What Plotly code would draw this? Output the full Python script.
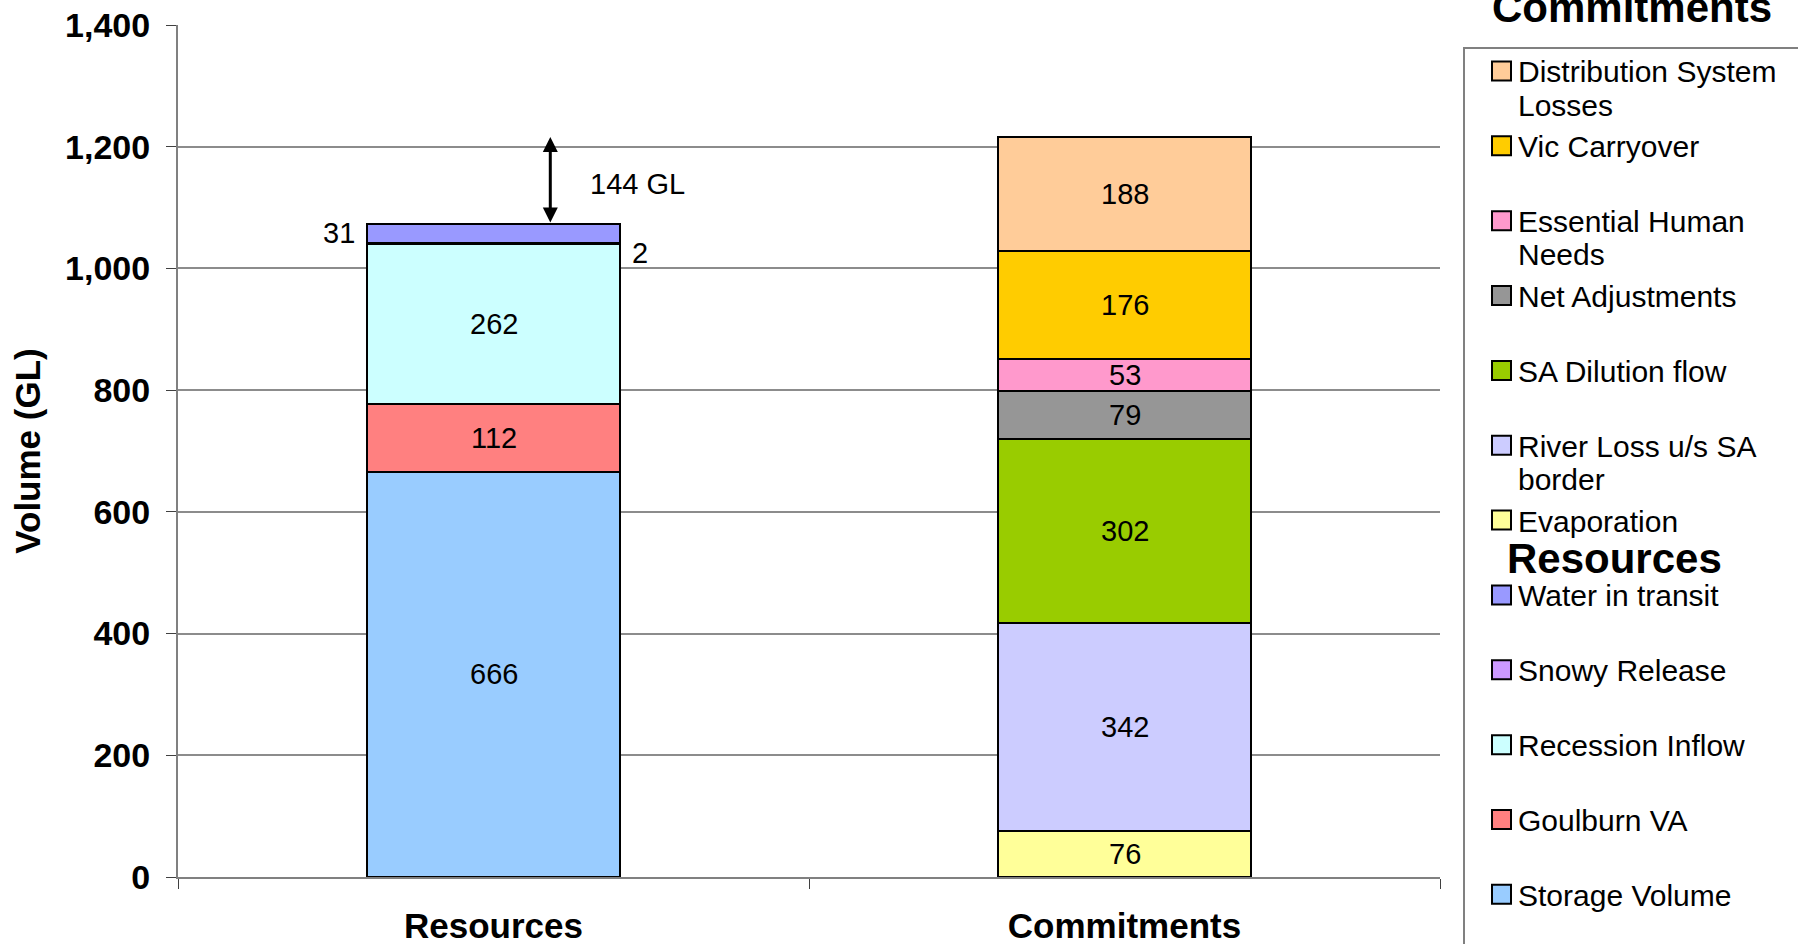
import textwrap
import plotly.graph_objects as go

# ---------------- data ----------------
categories = ["Resources", "Commitments"]

resource_names = ["Storage Volume", "Goulburn VA", "Recession Inflow", "Snowy Release", "Water in transit"]
resource_values = [666, 112, 262, 2, 31]

commitment_names = ["Evaporation", "River Loss u/s SA border", "SA Dilution flow", "Net Adjustments",
                    "Essential Human Needs", "Vic Carryover", "Distribution System Losses"]
commitment_values = [76, 342, 302, 79, 53, 176, 188]

gap_value = 144  # shortfall shown by the arrow (GL, as printed on the chart)

y_tick_values = [0, 200, 400, 600, 800, 1000, 1200, 1400]

# ---------------- styles ----------------
resource_colors = ["#99CCFF", "#FF8080", "#CCFFFF", "#CC99FF", "#9999FF"]
commitment_colors = ["#FFFF99", "#CCCCFF", "#99CC00", "#969696", "#FF99CC", "#FFCC00", "#FFCC99"]

FONT = "Liberation Sans, Arial, sans-serif"
FIG_W, FIG_H = 1798, 944
L, R, T, B = 178, 358, 25, 67
PW, PH = FIG_W - L - R, FIG_H - T - B
BAR_W = 0.4


def px(x):
    return (x - L) / PW


def py(y):
    return (FIG_H - B - y) / PH


fig = go.Figure()
annotations = []
shapes = []


def add_stack(cat_idx, names, values, colors, outside=None):
    base = 0
    for n, v, c in zip(names, values, colors):
        fig.add_trace(go.Bar(
            x=[categories[cat_idx]], y=[v], name=n, width=BAR_W,
            marker=dict(color=c, line=dict(color="black", width=2)),
            showlegend=False, hoverinfo="name+y"))
        mid = base + v / 2
        side = (outside or {}).get(n)
        if side == "left":
            annotations.append(dict(x=cat_idx - BAR_W / 2, y=mid, xref="x", yref="y", text=str(v),
                                    showarrow=False, xanchor="right", xshift=-10,
                                    font=dict(size=29, color="black", family=FONT)))
        elif side == "right":
            annotations.append(dict(x=cat_idx + BAR_W / 2, y=mid, xref="x", yref="y", text=str(v),
                                    showarrow=False, xanchor="left", xshift=10, yshift=-10,
                                    font=dict(size=29, color="black", family=FONT)))
        else:
            annotations.append(dict(x=cat_idx, y=mid, xref="x", yref="y", text=str(v),
                                    showarrow=False, xanchor="center", yanchor="middle",
                                    font=dict(size=29, color="black", family=FONT)))
        base += v
    return base


res_total = add_stack(0, resource_names, resource_values, resource_colors,
                      outside={"Snowy Release": "right", "Water in transit": "left"})
com_total = add_stack(1, commitment_names, commitment_values, commitment_colors)

# gap arrow between the two totals
ARROW_X = 0.09
annotations.append(dict(x=ARROW_X, y=com_total, ax=ARROW_X, ay=res_total, xref="x", yref="y",
                        axref="x", ayref="y", text="", showarrow=True, arrowhead=2, startarrowhead=2,
                        arrowside="end+start", arrowwidth=3, arrowsize=1, startarrowsize=1,
                        arrowcolor="black", standoff=0, startstandoff=0))
annotations.append(dict(x=0.15, y=(com_total + res_total) / 2 - 5, xref="x", yref="y",
                        text=f"{gap_value} GL", showarrow=False, xanchor="left",
                        yanchor="middle", font=dict(size=29, color="black", family=FONT)))

# ---------------- manual legend ----------------
shapes.append(dict(type="rect", xref="paper", yref="paper", x0=px(1464), x1=px(1810),
                   y0=py(960), y1=py(48), line=dict(color="#808080", width=2), fillcolor="white",
                   layer="below"))
annotations.append(dict(x=px(1632), y=py(7), xref="paper", yref="paper", text="<b>Commitments</b>",
                        showarrow=False, xanchor="center", yanchor="middle",
                        font=dict(size=42, color="black", family=FONT)))
annotations.append(dict(x=px(1614), y=py(558), xref="paper", yref="paper", text="<b>Resources</b>",
                        showarrow=False, xanchor="center", yanchor="middle",
                        font=dict(size=42, color="black", family=FONT)))

legend_entries = list(zip(commitment_names[::-1], commitment_colors[::-1])) + \
    list(zip(resource_names[::-1], resource_colors[::-1]))
for k, (name, col) in enumerate(legend_entries):
    cy = 71 + k * 74.85
    shapes.append(dict(type="rect", xref="paper", yref="paper", x0=px(1492), x1=px(1511),
                       y0=py(cy + 9.5), y1=py(cy - 9.5), fillcolor=col,
                       line=dict(color="black", width=2)))
    for j, line in enumerate(textwrap.wrap(name, 19)):
        annotations.append(dict(x=px(1516), y=py(cy + j * 33 + 1), xref="paper", yref="paper",
                                text=line, showarrow=False, xanchor="left", yanchor="middle",
                                font=dict(size=30, color="black", family=FONT)))

fig.update_layout(
    template="none",
    width=FIG_W, height=FIG_H,
    margin=dict(l=L, r=R, t=T, b=B, pad=0),
    paper_bgcolor="white", plot_bgcolor="white",
    barmode="stack", bargap=0.6,
    showlegend=False,
    font=dict(family=FONT, color="black"),
    annotations=annotations, shapes=shapes,
    xaxis=dict(type="category", categoryorder="array", categoryarray=categories,
               range=[-0.5, 1.5], showline=True, linecolor="#808080", linewidth=2,
               ticks="outside", tickson="boundaries", ticklen=10, tickcolor="#404040",
               showgrid=False, automargin=False,
               tickfont=dict(size=35, family=FONT, color="black", weight="bold"),
               ticklabelstandoff=17),
    yaxis=dict(range=[0, 1400], tickvals=y_tick_values, tickformat=",", showline=True,
               linecolor="#808080", linewidth=2, ticks="outside", ticklen=10, tickcolor="#404040",
               showgrid=True, gridcolor="#8c8c8c", gridwidth=1.5, zeroline=False, automargin=False,
               tickfont=dict(size=34, family=FONT, color="black", weight="bold"),
               ticklabelstandoff=9,
               title=dict(text="Volume (GL)", standoff=14,
                          font=dict(size=35, family=FONT, color="black", weight="bold"))),
)

fig.write_html("out.html")
